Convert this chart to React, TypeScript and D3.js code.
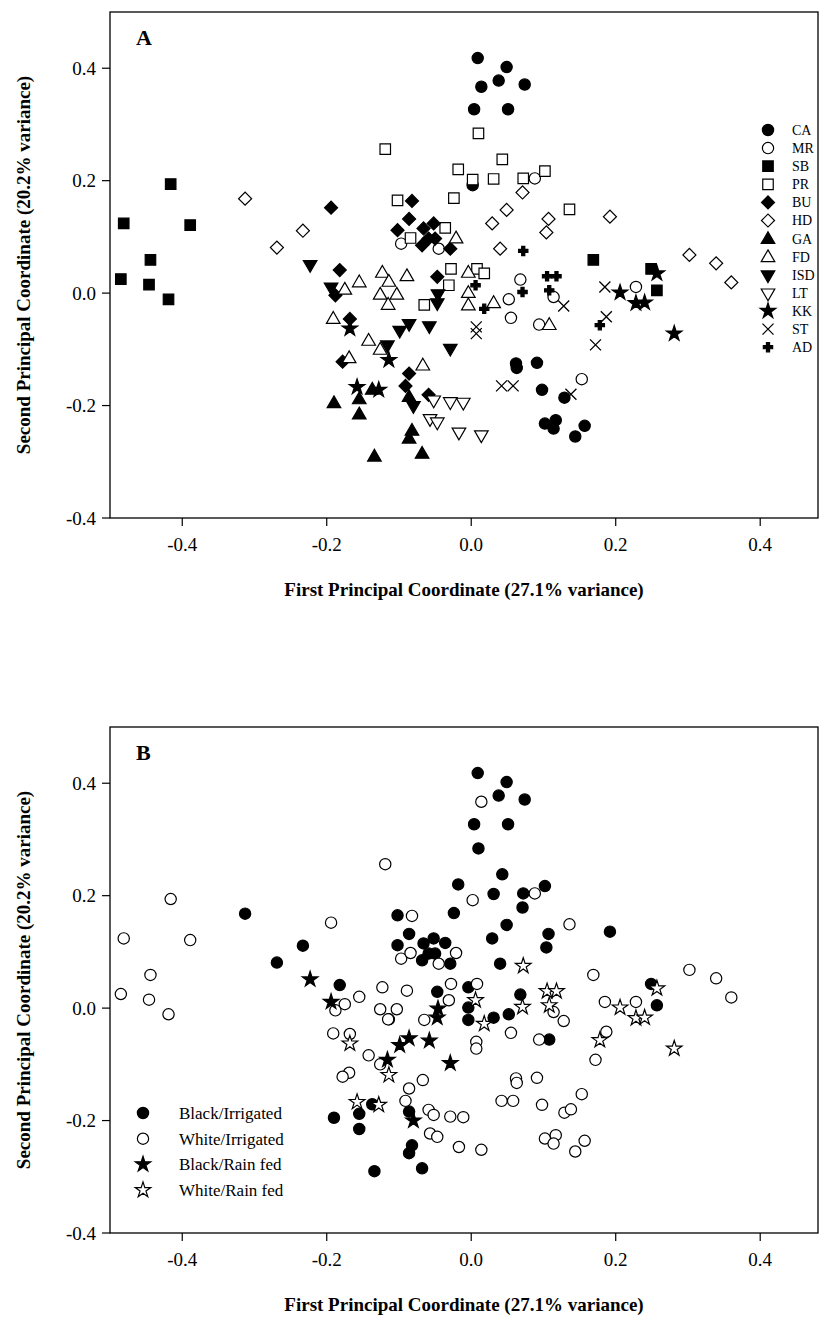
import React from "react";
import * as d3 from "d3";

type P = [number, number];

// ---------- Panel A data (by group) ----------
const CA: P[] = [[0.009,0.418],[0.049,0.402],[0.038,0.378],[0.014,0.367],[0.074,0.371],[0.004,0.327],[0.051,0.327],[0.002,0.192],[0.062,-0.125],[0.063,-0.133],[0.091,-0.124],[0.098,-0.172],[0.129,-0.186],[0.102,-0.232],[0.117,-0.226],[0.114,-0.241],[0.157,-0.236],[0.144,-0.255]];
const MR: P[] = [[0.088,0.204],[-0.097,0.088],[-0.045,0.079],[0.068,0.024],[0.114,-0.007],[0.052,-0.011],[0.055,-0.044],[0.094,-0.056],[0.153,-0.153],[0.228,0.011]];
const SB: P[] = [[-0.481,0.124],[-0.389,0.121],[-0.416,0.194],[-0.444,0.059],[-0.485,0.025],[-0.446,0.015],[-0.419,-0.011],[0.169,0.059],[0.249,0.043],[0.257,0.005]];
const PR: P[] = [[0.010,0.284],[-0.119,0.256],[0.043,0.238],[-0.018,0.220],[0.002,0.202],[0.031,0.203],[0.072,0.204],[0.102,0.217],[-0.102,0.165],[-0.024,0.169],[0.136,0.149],[-0.036,0.116],[-0.084,0.098],[-0.028,0.043],[-0.031,0.014],[-0.065,-0.021],[0.008,0.043],[0.018,0.035]];
const BU: P[] = [[-0.082,0.164],[-0.086,0.132],[-0.102,0.112],[-0.066,0.115],[-0.052,0.124],[-0.059,0.097],[-0.068,0.085],[-0.050,0.097],[-0.029,0.079],[-0.194,0.152],[-0.182,0.041],[-0.188,-0.004],[-0.047,0.029],[-0.168,-0.046],[-0.178,-0.122],[-0.086,-0.143],[-0.091,-0.165],[-0.059,-0.181]];
const HD: P[] = [[-0.313,0.168],[-0.233,0.111],[-0.269,0.081],[0.071,0.179],[0.049,0.148],[0.029,0.124],[0.107,0.132],[0.104,0.108],[0.040,0.079],[0.192,0.136],[0.302,0.068],[0.339,0.053],[0.360,0.019]];
const GA: P[] = [[-0.190,-0.195],[-0.155,-0.188],[-0.155,-0.215],[-0.137,-0.171],[-0.086,-0.184],[-0.082,-0.244],[-0.086,-0.258],[-0.134,-0.290],[-0.068,-0.285]];
const FD: P[] = [[-0.021,0.098],[-0.175,0.007],[-0.191,-0.045],[-0.123,0.037],[-0.089,0.031],[-0.155,0.020],[-0.114,0.021],[-0.126,-0.002],[-0.103,-0.002],[-0.115,-0.020],[-0.004,0.037],[-0.004,0.001],[-0.004,-0.021],[0.031,-0.017],[0.108,-0.056],[-0.142,-0.084],[-0.126,-0.100],[-0.067,-0.128],[-0.169,-0.115]];
const ISD: P[] = [[-0.223,0.051],[-0.194,0.011],[-0.046,-0.001],[-0.047,-0.017],[-0.086,-0.054],[-0.099,-0.066],[-0.058,-0.058],[-0.029,-0.098],[-0.116,-0.092],[-0.080,-0.200]];
const LT: P[] = [[-0.052,-0.190],[-0.029,-0.193],[-0.011,-0.194],[-0.057,-0.223],[-0.047,-0.229],[-0.017,-0.247],[0.014,-0.252]];
const KK: P[] = [[-0.168,-0.063],[-0.114,-0.119],[-0.158,-0.167],[-0.128,-0.172],[0.257,0.035],[0.206,0.001],[0.228,-0.018],[0.240,-0.017],[0.281,-0.072]];
const ST: P[] = [[0.128,-0.023],[0.007,-0.060],[0.007,-0.072],[0.042,-0.165],[0.058,-0.165],[0.138,-0.180],[0.185,0.011],[0.187,-0.042],[0.172,-0.092]];
const AD: P[] = [[0.072,0.075],[0.006,0.014],[0.018,-0.028],[0.071,0.002],[0.105,0.030],[0.118,0.030],[0.108,0.005],[0.178,-0.057]];

// ---------- Panel B data (by class) ----------
const blackIrrigated: P[] = [[0.009,0.418],[0.049,0.402],[0.038,0.378],[0.074,0.371],[0.004,0.327],[0.051,0.327],[0.010,0.284],[0.043,0.238],[-0.018,0.220],[0.031,0.203],[0.072,0.204],[0.102,0.217],[0.071,0.179],[0.049,0.148],[0.029,0.124],[0.107,0.132],[0.104,0.108],[0.040,0.079],[0.192,0.136],[-0.313,0.168],[-0.233,0.111],[-0.269,0.081],[-0.102,0.165],[-0.086,0.132],[-0.102,0.112],[-0.066,0.115],[-0.052,0.124],[-0.059,0.097],[-0.068,0.085],[-0.050,0.097],[-0.029,0.079],[-0.024,0.169],[-0.036,0.116],[-0.182,0.041],[-0.047,0.029],[-0.004,0.037],[-0.004,0.001],[-0.004,-0.021],[0.031,-0.017],[0.068,0.024],[0.052,-0.011],[0.108,-0.056],[0.249,0.043],[0.257,0.005],[-0.190,-0.195],[-0.155,-0.188],[-0.155,-0.215],[-0.137,-0.171],[-0.086,-0.184],[-0.082,-0.244],[-0.086,-0.258],[-0.134,-0.290],[-0.068,-0.285],[-0.114,-0.020]];
const whiteIrrigated: P[] = [[0.014,0.367],[0.002,0.192],[-0.119,0.256],[0.088,0.204],[0.136,0.149],[-0.194,0.152],[-0.082,0.164],[-0.097,0.088],[-0.045,0.079],[-0.084,0.098],[-0.021,0.098],[-0.481,0.124],[-0.389,0.121],[-0.416,0.194],[-0.444,0.059],[-0.485,0.025],[-0.446,0.015],[-0.419,-0.011],[0.169,0.059],[0.302,0.068],[0.339,0.053],[0.360,0.019],[0.228,0.011],[-0.175,0.007],[-0.191,-0.045],[-0.123,0.037],[-0.089,0.031],[-0.155,0.020],[-0.126,-0.002],[-0.103,-0.002],[-0.115,-0.020],[-0.028,0.043],[-0.031,0.014],[-0.065,-0.021],[0.008,0.043],[0.114,-0.007],[0.055,-0.044],[0.094,-0.056],[0.128,-0.023],[0.007,-0.060],[0.007,-0.072],[-0.142,-0.084],[-0.126,-0.100],[-0.067,-0.128],[-0.169,-0.115],[-0.188,-0.004],[-0.168,-0.046],[-0.178,-0.122],[-0.086,-0.143],[-0.091,-0.165],[-0.059,-0.181],[-0.052,-0.190],[-0.029,-0.193],[-0.011,-0.194],[-0.057,-0.223],[-0.047,-0.229],[-0.017,-0.247],[0.014,-0.252],[0.062,-0.125],[0.063,-0.133],[0.091,-0.124],[0.098,-0.172],[0.129,-0.186],[0.102,-0.232],[0.117,-0.226],[0.114,-0.241],[0.157,-0.236],[0.144,-0.255],[0.153,-0.153],[0.042,-0.165],[0.058,-0.165],[0.138,-0.180],[0.185,0.011],[0.187,-0.042],[0.172,-0.092]];
const blackRainfed: P[] = [[-0.223,0.051],[-0.194,0.011],[-0.046,-0.001],[-0.047,-0.017],[-0.086,-0.054],[-0.099,-0.066],[-0.058,-0.058],[-0.029,-0.098],[-0.116,-0.092],[-0.080,-0.200]];
const whiteRainfed: P[] = [[-0.168,-0.063],[-0.114,-0.119],[-0.158,-0.167],[-0.128,-0.172],[0.257,0.035],[0.206,0.001],[0.228,-0.018],[0.240,-0.017],[0.281,-0.072],[0.072,0.075],[0.006,0.014],[0.018,-0.028],[0.071,0.002],[0.105,0.030],[0.118,0.030],[0.108,0.005],[0.178,-0.057]];

const xTicks = [-0.4, -0.2, 0.0, 0.2, 0.4];
const yTicks = [-0.4, -0.2, 0.0, 0.2, 0.4];
const tickLabel = (v: number) => (v < 0 ? "-" : "") + Math.abs(v).toFixed(1);

type Shape = "circle" | "square" | "diamond" | "triUp" | "triDown" | "star" | "x" | "plus";

const seriesA: { name: string; data: P[]; shape: Shape; filled: boolean }[] = [
  { name: "CA", data: CA, shape: "circle", filled: true },
  { name: "MR", data: MR, shape: "circle", filled: false },
  { name: "SB", data: SB, shape: "square", filled: true },
  { name: "PR", data: PR, shape: "square", filled: false },
  { name: "BU", data: BU, shape: "diamond", filled: true },
  { name: "HD", data: HD, shape: "diamond", filled: false },
  { name: "GA", data: GA, shape: "triUp", filled: true },
  { name: "FD", data: FD, shape: "triUp", filled: false },
  { name: "ISD", data: ISD, shape: "triDown", filled: true },
  { name: "LT", data: LT, shape: "triDown", filled: false },
  { name: "KK", data: KK, shape: "star", filled: true },
  { name: "ST", data: ST, shape: "x", filled: false },
  { name: "AD", data: AD, shape: "plus", filled: true },
];

const seriesB: { name: string; data: P[]; shape: Shape; filled: boolean }[] = [
  { name: "Black/Irrigated", data: blackIrrigated, shape: "circle", filled: true },
  { name: "White/Irrigated", data: whiteIrrigated, shape: "circle", filled: false },
  { name: "Black/Rain fed", data: blackRainfed, shape: "star", filled: true },
  { name: "White/Rain fed", data: whiteRainfed, shape: "star", filled: false },
];

function markerPath(shape: Shape): string {
  switch (shape) {
    case "circle": return d3.symbol(d3.symbolCircle, 100)()!;
    case "square": return d3.symbol(d3.symbolSquare, 110)()!;
    case "diamond": return d3.symbol(d3.symbolSquare, 85)()!;
    case "triUp": return d3.symbol(d3.symbolTriangle, 80)()!;
    case "triDown": return d3.symbol(d3.symbolTriangle, 80)()!;
    case "star": return d3.symbol(d3.symbolStar, 75)()!;
    case "plus": return d3.symbol(d3.symbolCross, 48)()!;
    case "x": { const r = 5.5; return `M${-r},${-r}L${r},${r}M${-r},${r}L${r},${-r}`; }
  }
}
function markerTransform(shape: Shape, x: number, y: number) {
  if (shape === "diamond") return `translate(${x},${y}) rotate(45)`;
  if (shape === "triDown") return `translate(${x},${y}) rotate(180)`;
  if (shape === "triUp") return `translate(${x},${y + 1})`;
  return `translate(${x},${y})`;
}

const Marker = ({ shape, filled, x, y }: { shape: Shape; filled: boolean; x: number; y: number }) => (
  <path
    d={markerPath(shape)}
    transform={markerTransform(shape, x, y)}
    fill={shape === "x" ? "none" : filled ? "#000" : "#fff"}
    stroke="#000"
    strokeWidth={shape === "x" ? 1.3 : 1.2}
  />
);

const W = 823, H = 1321;
const left = 110, right = 818;
const font = "'Liberation Serif', 'Times New Roman', serif";

function Panel({ top, bottom, letter, series, legend }: { top: number; bottom: number; letter: string; series: typeof seriesA; legend: "A" | "B" }) {
  const x = d3.scaleLinear().domain([-0.5, 0.48]).range([left, right]);
  const y = d3.scaleLinear().domain([-0.4, 0.5]).range([bottom, top]);
  return (
    <g>
      {series.map((s) =>
        s.data.map((d, i) => <Marker key={s.name + i} shape={s.shape} filled={s.filled} x={x(d[0])} y={y(d[1])} />)
      )}
      <rect x={left} y={top} width={right - left} height={bottom - top} fill="none" stroke="#000" strokeWidth={1.3} />
      {yTicks.map((t) => (
        <g key={"y" + t}>
          <line x1={left - 8} x2={left} y1={y(t)} y2={y(t)} stroke="#000" strokeWidth={1.2} />
          <text x={left - 14} y={y(t)} dy="0.35em" textAnchor="end" fontFamily={font} fontSize={19}>{tickLabel(t)}</text>
        </g>
      ))}
      {xTicks.map((t) => (
        <g key={"x" + t}>
          <line x1={x(t)} x2={x(t)} y1={bottom} y2={bottom + 8} stroke="#000" strokeWidth={1.2} />
          <text x={x(t)} y={bottom + 33} textAnchor="middle" fontFamily={font} fontSize={19}>{tickLabel(t)}</text>
        </g>
      ))}
      <text x={(left + right) / 2} y={bottom + 78} textAnchor="middle" fontFamily={font} fontSize={19} fontWeight="bold">
        {legend === "A" ? "First Principal Coordinate (27.1% variance)" : "First Principal Coordinate (27.1%  variance)"}
      </text>
      <text transform={`translate(30,${(top + bottom) / 2}) rotate(-90)`} textAnchor="middle" fontFamily={font} fontSize={19} fontWeight="bold">
        Second Principal Coordinate (20.2% variance)
      </text>
      <text x={136} y={top + 33} fontFamily={font} fontSize={22} fontWeight="bold">{letter}</text>
      {legend === "A"
        ? series.map((s, i) => (
            <g key={"lg" + s.name}>
              <Marker shape={s.shape} filled={s.filled} x={768} y={130 + i * 18.1} />
              <text x={792} y={130 + i * 18.1} dy="0.35em" fontFamily={font} fontSize={14}>{s.name}</text>
            </g>
          ))
        : series.map((s, i) => (
            <g key={"lg" + s.name}>
              <Marker shape={s.shape} filled={s.filled} x={143} y={1113 + i * 25.7} />
              <text x={179} y={1113 + i * 25.7} dy="0.35em" fontFamily={font} fontSize={17}>{s.name}</text>
            </g>
          ))}
    </g>
  );
}

export default function App() {
  return (
    <svg width={W} height={H} style={{ display: "block", position: "absolute", left: 0, top: 0, background: "#fff" }}>
      <rect width={W} height={H} fill="#fff" />
      <Panel top={12} bottom={518} letter="A" series={seriesA} legend="A" />
      <Panel top={727} bottom={1233} letter="B" series={seriesB} legend="B" />
    </svg>
  );
}
